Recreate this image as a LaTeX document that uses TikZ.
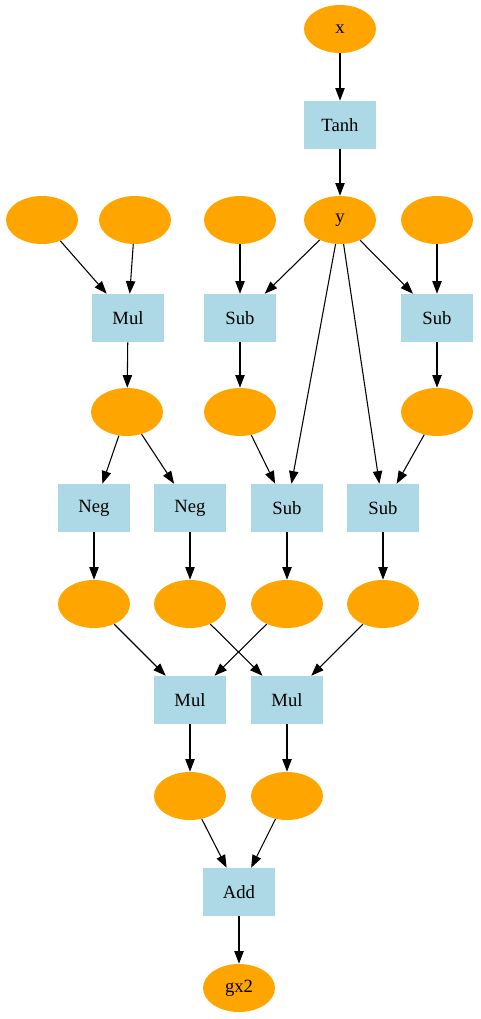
\documentclass[tikz,border=0pt]{standalone}
\usepackage{fontspec}
\setmainfont{Liberation Serif}
\usetikzlibrary{shapes.geometric,arrows.meta}
\definecolor{varfill}{HTML}{FFA500}
\definecolor{opfill}{HTML}{ADD8E6}
\begin{document}
\begin{tikzpicture}[x=0.75pt,y=-0.75pt,
  var/.style={ellipse,fill=varfill,minimum width=54pt,minimum height=36pt,inner sep=0pt,font=\fontsize{14}{16}\selectfont},
  op/.style={rectangle,fill=opfill,minimum width=54pt,minimum height=36pt,inner sep=0pt,font=\fontsize{14}{16}\selectfont},
  edge/.style={draw=black,line width=0.8pt,-{Triangle[length=9.5pt,width=7pt]}}]
\useasboundingbox (0,0) rectangle (480,1019);
% inputs and tanh
\node[var] (x) at (340,29) {x};
\node[op] (tanh) at (340,125) {Tanh};
\node[var] (a1) at (42,220) {};
\node[var] (a2) at (135,220) {};
\node[var] (a3) at (240,220) {};
\node[var] (y) at (340,220) {y};
\node[var] (a5) at (437,220) {};
% first op layer
\node[op] (mul1) at (128,318) {Mul};
\node[op] (sub1) at (240,318) {Sub};
\node[op] (sub2) at (437,318) {Sub};
\node[var] (b1) at (127,412) {};
\node[var] (b2) at (240,412) {};
\node[var] (b3) at (437,412) {};
% second op layer
\node[op] (neg1) at (94,508) {Neg};
\node[op] (neg2) at (190,508) {Neg};
\node[op] (sub3) at (287,508) {Sub};
\node[op] (sub4) at (383,508) {Sub};
\node[var] (c1) at (94,604) {};
\node[var] (c2) at (190,604) {};
\node[var] (c3) at (287,604) {};
\node[var] (c4) at (383,604) {};
% products and sum
\node[op] (mul2) at (190,700) {Mul};
\node[op] (mul3) at (287,700) {Mul};
\node[var] (d1) at (190,796) {};
\node[var] (d2) at (287,796) {};
\node[op] (add) at (239,892) {Add};
\node[var] (gx2) at (239,988) {gx2};
% connectors
\draw[edge] (x) -- (tanh);
\draw[edge] (tanh) -- (y);
\draw[edge] (a1) -- (mul1);
\draw[edge] (a2) -- (mul1);
\draw[edge] (a3) -- (sub1);
\draw[edge] (y) -- (sub1);
\draw[edge] (y) -- (sub3);
\draw[edge] (y) -- (sub4);
\draw[edge] (y) -- (sub2);
\draw[edge] (a5) -- (sub2);
\draw[edge] (mul1) -- (b1);
\draw[edge] (sub1) -- (b2);
\draw[edge] (sub2) -- (b3);
\draw[edge] (b1) -- (neg1);
\draw[edge] (b1) -- (neg2);
\draw[edge] (b2) -- (sub3);
\draw[edge] (b3) -- (sub4);
\draw[edge] (neg1) -- (c1);
\draw[edge] (neg2) -- (c2);
\draw[edge] (sub3) -- (c3);
\draw[edge] (sub4) -- (c4);
\draw[edge] (c1) -- (mul2);
\draw[edge] (c3) -- (mul2);
\draw[edge] (c2) -- (mul3);
\draw[edge] (c4) -- (mul3);
\draw[edge] (mul2) -- (d1);
\draw[edge] (mul3) -- (d2);
\draw[edge] (d1) -- (add);
\draw[edge] (d2) -- (add);
\draw[edge] (add) -- (gx2);
\end{tikzpicture}
\end{document}
